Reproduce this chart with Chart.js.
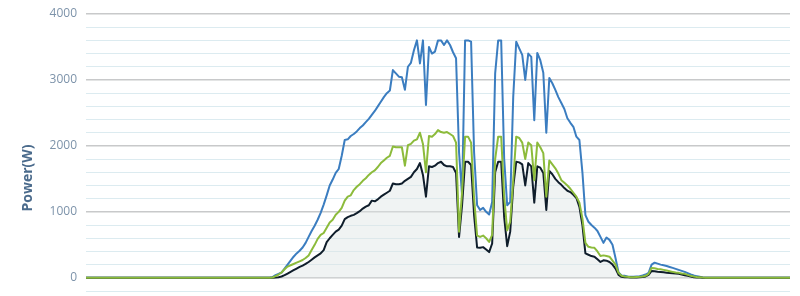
<!DOCTYPE html>
<html>
<head>
<meta charset="utf-8">
<script src="https://cdn.jsdelivr.net/npm/chart.js@4.4.1/dist/chart.umd.min.js"></script>
<style>
  html, body { margin: 0; padding: 0; background: #fff; }
  #wrap { width: 800px; height: 296px; }
</style>
</head>
<body>
<div id="wrap"><canvas id="pv" width="800" height="296"></canvas></div>
<script>
// PV power over one day (W)
const pvBlue = [
    0,0,0,0,0,0,0,0,0,0,0,0,0,0,0,0,0,0,0,0,
    0,0,0,0,0,0,0,0,0,0,0,0,0,0,0,0,0,0,0,0,
    0,0,0,0,0,0,0,0,0,0,0,0,0,0,0,0,0,0,0,0,0,
    0,10,40,60,80,140,200,260,320,370,
    410,460,530,620,710,790,880,985,1110,1250,
    1400,1490,1590,1650,1850,2090,2100,2150,2180,2220,
    2270,2310,2360,2410,2470,2530,2600,2670,2740,2800,
    2840,3150,3100,3050,3040,2850,3200,3260,3450,3600,
    3250,3600,2620,3500,3400,3430,3600,3600,3530,3600,
    3530,3420,3330,1900,1250,3600,3600,3580,1900,1100,
    1030,1060,1000,960,1150,3100,3600,3600,1800,1100,
    1150,2740,3580,3480,3380,3000,3400,3350,2390,3410,
    3300,3110,2200,3030,2950,2850,2740,2650,2560,2420,
    2350,2290,2140,2090,1600,950,850,800,760,710,
    620,530,610,575,500,300,80,35,30,20,
    15,15,20,25,35,50,75,200,230,215,
    200,190,180,165,150,135,120,105,90,70,
    50,35,25,15,5,
    0,0,0,0,0,0,0,0,0,0,0,0,0,0,0,0,0,0,0,0,
    0,0,0,0,0,0,0,0,0,
];

const pvGreen = [
    0,0,0,0,0,0,0,0,0,0,0,0,0,0,0,0,0,0,0,0,
    0,0,0,0,0,0,0,0,0,0,0,0,0,0,0,0,0,0,0,0,
    0,0,0,0,0,0,0,0,0,0,0,0,0,0,0,0,0,0,0,0,0,
    0,5,25,50,80,130,170,190,210,230,
    250,270,300,340,420,500,590,650,680,760,
    840,880,955,1000,1060,1170,1230,1250,1330,1380,
    1420,1470,1510,1560,1600,1630,1680,1740,1780,1820,
    1850,1990,1980,1980,1980,1700,2010,2030,2080,2100,
    2200,2030,1600,2150,2140,2180,2240,2210,2200,2210,
    2180,2150,2050,700,1300,2140,2140,2050,1200,640,
    620,640,600,545,650,1800,2140,2140,1230,720,
    850,1480,2140,2120,2050,1800,2050,2010,1480,2050,
    1980,1890,1230,1780,1720,1660,1580,1480,1440,1400,
    1350,1290,1230,1140,900,530,470,460,455,400,
    330,340,330,320,260,200,75,30,20,15,
    10,10,12,15,20,30,60,150,145,135,
    130,120,110,100,90,80,75,65,60,45,
    30,20,12,8,3,
    0,0,0,0,0,0,0,0,0,0,0,0,0,0,0,0,0,0,0,0,
    0,0,0,0,0,0,0,0,0,
];

const pvBlack = [
    0,0,0,0,0,0,0,0,0,0,0,0,0,0,0,0,0,0,0,0,
    0,0,0,0,0,0,0,0,0,0,0,0,0,0,0,0,0,0,0,0,
    0,0,0,0,0,0,0,0,0,0,0,0,0,0,0,0,0,0,0,0,0,
    0,0,5,10,20,40,65,90,115,140,
    165,185,210,240,275,310,340,370,420,540,
    600,650,700,730,790,890,920,940,955,980,
    1010,1050,1080,1100,1170,1160,1190,1230,1260,1290,
    1320,1430,1420,1420,1430,1470,1500,1530,1600,1650,
    1740,1560,1230,1690,1680,1700,1740,1760,1710,1690,
    1690,1680,1590,620,1100,1760,1760,1710,950,460,
    455,465,430,390,520,1600,1760,1760,920,480,
    700,1380,1760,1750,1720,1400,1740,1690,1140,1690,
    1670,1590,1030,1620,1570,1500,1450,1410,1360,1320,
    1300,1260,1210,1075,800,370,350,330,320,280,
    240,265,260,240,200,140,45,15,10,8,
    5,5,5,8,12,20,45,105,100,92,
    88,84,78,74,70,65,60,50,40,30,
    20,10,6,4,2,
    0,0,0,0,0,0,0,0,0,0,0,0,0,0,0,0,0,0,0,0,
    0,0,0,0,0,0,0,0,0,
];

const samples = pvBlue.map((_, i) => i);

const yTitle = 'Power(W)';

// y axis title sits a bit below the middle in the original, so draw it by hand
const axisTitlePlugin = {
    id: 'axisTitle',
    afterDraw(chart) {
        const ctx = chart.ctx;
        ctx.save();
        ctx.translate(28, 178);
        ctx.rotate(-Math.PI / 2);
        ctx.font = 'bold 14px "Open Sans"';
        ctx.fillStyle = '#4b6b8c';
        ctx.textAlign = 'center';
        ctx.textBaseline = 'middle';
        ctx.fillText(yTitle, 0, 0);
        ctx.restore();
    },
};

const lineBase = {
    borderWidth: 2,
    pointRadius: 0,
    tension: 0,
    borderJoinStyle: 'round',
    fill: false,
};

new Chart(document.getElementById('pv'), {
    type: 'line',
    data: {
        labels: samples,
        datasets: [
            { ...lineBase, label: 'green', data: pvGreen, borderColor: '#8cbb3b' },
            {
                ...lineBase,
                label: 'black',
                data: pvBlack,
                borderColor: '#0f1d2b',
                fill: 'origin',
                backgroundColor: 'rgba(222,228,228,0.45)',
            },
            { ...lineBase, label: 'blue', data: pvBlue, borderColor: '#3b7dc0' },
        ],
    },
    options: {
        responsive: false,
        animation: false,
        layout: { padding: { top: 14, bottom: 5, left: 0, right: 10 } },
        plugins: {
            legend: { display: false },
            tooltip: { enabled: false },
        },
        scales: {
            x: { display: false },
            y: {
                min: -200,
                max: 4000,
                border: { display: false },
                grid: {
                    drawTicks: false,
                    color: c => (c.tick.value % 1000 === 0 ? '#c8c9ca' : '#dcebf0'),
                    lineWidth: c => (c.tick.value % 1000 === 0 ? 1.5 : 1),
                },
                ticks: {
                    stepSize: 200,
                    autoSkip: false,
                    padding: 9,
                    color: '#7d93aa',
                    font: { family: '"Open Sans"', size: 12 },
                    callback: v => (v >= 0 && v % 1000 === 0 ? v : ''),
                },
                afterFit: s => {
                    s.width = 86;
                    s.paddingTop = 0;
                    s.paddingBottom = 0;
                },
            },
        },
    },
    plugins: [axisTitlePlugin],
});
</script>
</body>
</html>
